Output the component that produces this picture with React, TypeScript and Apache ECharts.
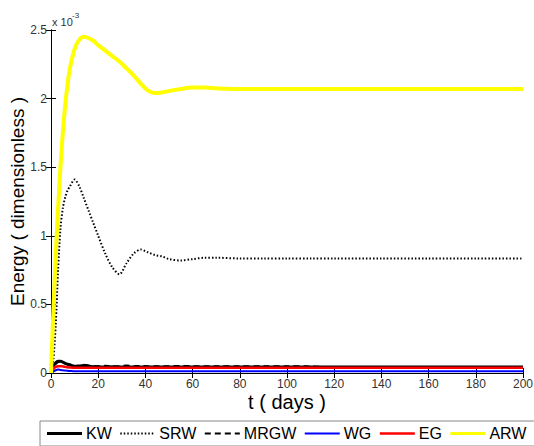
import React, { useEffect, useRef } from "react";
import * as echarts from "echarts";

// time grid (days)
const tDays = [0, 1, 2, 3, 4, 5, 6, 7, 8, 10, 12, 14, 16, 18, 20, 23, 26, 29, 32, 35, 38, 41, 44, 47, 50, 55, 60, 65, 70, 80, 90, 100, 110, 120, 140, 160, 180, 200];

// energies in units of 1e-3
const KW = [0, 0.05, 0.075, 0.085, 0.085, 0.08, 0.07, 0.065, 0.06, 0.05, 0.05, 0.055, 0.05, 0.045, 0.045, 0.042, 0.045, 0.043, 0.045, 0.043, 0.043, 0.043, 0.043, 0.043, 0.043, 0.043, 0.043, 0.043, 0.043, 0.043, 0.043, 0.043, 0.043, 0.043, 0.043, 0.043, 0.043, 0.043];
const SRW = [0, 0.1, 0.35, 0.75, 1.05, 1.2, 1.28, 1.33, 1.36, 1.41, 1.36, 1.27, 1.18, 1.09, 1.0, 0.87, 0.77, 0.72, 0.8, 0.87, 0.9, 0.88, 0.86, 0.85, 0.83, 0.82, 0.83, 0.84, 0.84, 0.835, 0.835, 0.835, 0.835, 0.835, 0.835, 0.835, 0.835, 0.835];
const MRGW = [0, 0.04, 0.065, 0.08, 0.085, 0.08, 0.07, 0.062, 0.055, 0.05, 0.055, 0.06, 0.055, 0.05, 0.05, 0.052, 0.05, 0.05, 0.055, 0.05, 0.052, 0.05, 0.05, 0.05, 0.05, 0.052, 0.05, 0.05, 0.05, 0.05, 0.05, 0.05, 0.048, 0.04, 0.04, 0.04, 0.04, 0.04];
const WG = [0, 0.01, 0.02, 0.025, 0.022, 0.02, 0.018, 0.016, 0.015, 0.012, 0.012, 0.012, 0.012, 0.012, 0.012, 0.012, 0.012, 0.012, 0.012, 0.012, 0.012, 0.012, 0.012, 0.012, 0.012, 0.012, 0.012, 0.012, 0.012, 0.012, 0.012, 0.012, 0.012, 0.012, 0.012, 0.012, 0.012, 0.012];
const EG = [0, 0.03, 0.045, 0.05, 0.05, 0.048, 0.045, 0.042, 0.04, 0.038, 0.038, 0.038, 0.038, 0.038, 0.038, 0.038, 0.038, 0.038, 0.038, 0.038, 0.038, 0.038, 0.038, 0.038, 0.038, 0.038, 0.038, 0.038, 0.038, 0.038, 0.038, 0.038, 0.038, 0.038, 0.038, 0.038, 0.038, 0.038];
const ARW = [0, 0.45, 0.85, 1.2, 1.5, 1.75, 1.95, 2.1, 2.22, 2.36, 2.43, 2.45, 2.44, 2.42, 2.39, 2.35, 2.31, 2.27, 2.22, 2.17, 2.11, 2.06, 2.04, 2.045, 2.055, 2.07, 2.08, 2.08, 2.075, 2.07, 2.07, 2.07, 2.07, 2.07, 2.07, 2.07, 2.07, 2.07];

const seriesNames = ["KW", "SRW", "MRGW", "WG", "EG", "ARW"];
const xTicks = { min: 0, max: 200, interval: 20 };
const yTicks = { min: 0, max: 2.5, interval: 0.5 };

const FONT = "Liberation Sans, Arial, sans-serif";

function measure(text: string, size: number) {
  const c = document.createElement("canvas").getContext("2d");
  if (!c) return text.length * size * 0.6;
  c.font = `${size}px ${FONT}`;
  return c.measureText(text).width;
}

export default function App() {
  const ref = useRef<HTMLDivElement>(null);
  useEffect(() => {
    if (!ref.current) return;
    const chart = echarts.init(ref.current, undefined, { renderer: "svg" });
    const pairs = (v: number[]) => tDays.map((t, i) => [t, v[i]]);
    const styles: any[] = [
      { color: "#000000", width: 3, type: "solid" },
      { color: "#000000", width: 2, type: [1.5, 2] },
      { color: "#000000", width: 2, type: [6, 4] },
      { color: "#0000ff", width: 2, type: "solid" },
      { color: "#ff0000", width: 2.5, type: "solid" },
      { color: "#ffff00", width: 4, type: "solid" },
    ];
    const data = [KW, SRW, MRGW, WG, EG, ARW];
    const axisCommon = {
      axisLine: { show: true, lineStyle: { color: "#000", width: 1 } },
      axisTick: { show: true, inside: true, length: 5, lineStyle: { color: "#000" } },
      splitLine: { show: false },
    };

    // legend drawn with graphic elements (box extends past the right edge)
    const legendLeft = 40;
    const legendTop = 421;
    const legendH = 25;
    const lineW = 35;
    const legendEls: any[] = [
      {
        type: "rect",
        shape: { x: legendLeft, y: legendTop, width: 520, height: legendH },
        style: { fill: "#fff", stroke: "#888", lineWidth: 1 },
        z: 100,
      },
    ];
    let cx = legendLeft + 7;
    const cy = legendTop + legendH / 2;
    seriesNames.forEach((name, i) => {
      const s = styles[i];
      legendEls.push({
        type: "line",
        shape: { x1: cx, y1: cy, x2: cx + lineW, y2: cy },
        style: {
          stroke: s.color,
          lineWidth: Math.min(s.width, 3),
          lineDash: Array.isArray(s.type) ? s.type : null,
        },
        z: 101,
      });
      cx += lineW + 4;
      legendEls.push({
        type: "text",
        x: cx,
        y: cy,
        style: {
          text: name,
          fontSize: 16,
          fontFamily: FONT,
          fill: "#000",
          verticalAlign: "middle",
          align: "left",
        },
        z: 101,
      });
      cx += measure(name, 16) + 8.5;
    });

    chart.setOption({
      animation: false,
      backgroundColor: "#fff",
      grid: { left: 51, right: 11, top: 30, bottom: 73, containLabel: false, outerBoundsMode: "none" },
      graphic: [
        { type: "text", left: 52, top: 16, style: { text: "x 10", fontSize: 11, fontFamily: FONT, fill: "#333" } },
        { type: "text", left: 72, top: 11, style: { text: "-3", fontSize: 8, fontFamily: FONT, fill: "#333" } },
        ...legendEls,
      ],
      xAxis: [
        {
          type: "value",
          ...xTicks,
          ...axisCommon,
          name: "t ( days )",
          nameLocation: "middle",
          nameGap: 19,
          nameMoveOverlap: false,
          nameTextStyle: { fontSize: 20, fontFamily: FONT, color: "#000" },
          axisLabel: { fontSize: 12, fontFamily: FONT, color: "#333", margin: 5 },
        },
        {
          type: "value",
          position: "top",
          ...xTicks,
          ...axisCommon,
          axisLabel: { show: false },
        },
      ],
      yAxis: [
        {
          type: "value",
          ...yTicks,
          ...axisCommon,
          name: "Energy ( dimensionless )",
          nameLocation: "middle",
          nameGap: 24,
          nameMoveOverlap: false,
          nameRotate: 90,
          nameTextStyle: { fontSize: 19, fontFamily: FONT, color: "#000" },
          axisLabel: { fontSize: 12, fontFamily: FONT, color: "#333", margin: 4 },
        },
        {
          type: "value",
          position: "right",
          ...yTicks,
          ...axisCommon,
          axisLabel: { show: false },
        },
      ],
      series: seriesNames.map((name, i) => ({
        name,
        type: "line",
        data: pairs(data[i]),
        showSymbol: false,
        symbol: "none",
        smooth: 0.3,
        lineStyle: styles[i],
        itemStyle: { color: styles[i].color },
        z: 2 + i,
      })),
    });
    return () => chart.dispose();
  }, []);
  return <div ref={ref} style={{ width: 534, height: 446, position: "absolute", left: 0, top: 0 }} />;
}
